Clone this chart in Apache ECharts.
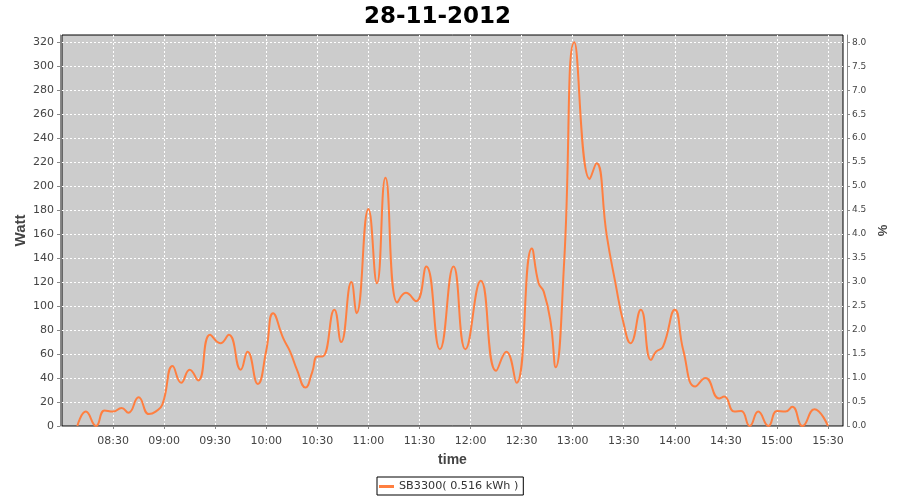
<!DOCTYPE html>
<html>
<head>
<meta charset="utf-8">
<script src="https://cdn.jsdelivr.net/npm/echarts@6/dist/echarts.min.js"></script>
<style>
  html, body { margin: 0; padding: 0; background: #fff; }
  #chart { width: 900px; height: 500px; }
</style>
</head>
<body>
<div id="chart"></div>
<script>
// readings of the SB3300 inverter, 28-11-2012
var times = ['08:09', '08:14', '08:20', '08:25', '08:30', '08:35', '08:39', '08:45', '08:51', '08:55',
  '08:59', '09:05', '09:10', '09:15', '09:20', '09:27', '09:33', '09:38', '09:45', '09:49',
  '09:55', '10:00', '10:04', '10:10', '10:14', '10:18', '10:23', '10:27', '10:30', '10:33',
  '10:40', '10:44', '10:50', '10:53', '11:00', '11:05', '11:10', '11:17', '11:22', '11:28',
  '11:34', '11:42', '11:50', '11:57', '12:06', '12:15', '12:21', '12:27', '12:36', '12:40',
  '12:43', '12:47', '12:50', '12:55', '13:01', '13:10', '13:14', '13:20', '13:25', '13:30',
  '13:34', '13:40', '13:46', '13:49', '13:53', '14:00', '14:05', '14:12', '14:18', '14:26',
  '14:29', '14:35', '14:39', '14:44', '14:49', '14:55', '15:00', '15:05', '15:09', '15:15',
  '15:22', '15:30']
var watt = [0, 12, 0, 13, 12, 15, 11, 24, 10, 12,
  18, 50, 36, 47, 38, 76, 69, 76, 47, 62,
  35, 63, 94, 73, 62, 47, 32, 45, 58, 58,
  97, 70, 120, 94, 181, 119, 207, 103, 111, 104,
  133, 64, 133, 64, 121, 46, 62, 36, 148, 119,
  112, 87, 49, 137, 320, 206, 219, 159, 120, 85,
  69, 97, 55, 62, 66, 97, 63, 33, 40, 23,
  24.5, 12, 12.5, 0, 12, 0, 12.5, 12, 16, 0,
  14, 0]
var seriesName = 'SB3300( 0.516 kWh )'
var chartTitle = '28-11-2012'

function toMin (s) {
  var p = s.split(':')
  return parseInt(p[0], 10) * 60 + parseInt(p[1], 10)
}
function fmtTime (v) {
  var h = Math.floor(v / 60)
  var m = Math.round(v - h * 60)
  return (h < 10 ? '0' : '') + h + ':' + (m < 10 ? '0' : '') + m
}

var points = times.map(function (t, i) { return [toMin(t), watt[i]] })

var font = 'DejaVu Sans'
var myChart = echarts.init(document.getElementById('chart'))
myChart.setOption({
  animation: false,
  backgroundColor: '#fff',
  title: {
    text: chartTitle,
    left: 359,
    top: 1,
    textStyle: { fontFamily: font, fontWeight: 'bold', fontSize: 23, color: '#000' }
  },
  legend: {
    left: 377,
    top: 477,
    borderColor: '#000',
    borderWidth: 1,
    padding: [4, 5, 3, 2],
    itemWidth: 15,
    itemHeight: 3,
    textStyle: { fontFamily: font, fontSize: 11.2, color: '#333' },
    data: [{ name: seriesName, icon: 'rect' }]
  },
  grid: {
    left: 62,
    right: 57,
    top: 35,
    bottom: 74,
    show: true,
    backgroundColor: '#cccccc',
    borderColor: '#000',
    borderWidth: 1
  },
  xAxis: {
    type: 'value',
    min: 480,
    max: 938.8,
    interval: 30,
    offset: 4,
    name: 'time',
    nameLocation: 'middle',
    nameGap: 23,
    nameTextStyle: { fontFamily: 'Liberation Sans', fontWeight: 'bold', fontSize: 14, color: '#444' },
    axisLine: { lineStyle: { color: '#888' } },
    axisTick: { length: 3, lineStyle: { color: '#888' } },
    axisLabel: {
      showMinLabel: false,
      showMaxLabel: false,
      margin: 6,
      fontFamily: font,
      fontSize: 11,
      color: '#444',
      formatter: fmtTime
    },
    splitLine: {
      show: true,
      showMinLine: false,
      showMaxLine: false,
      lineStyle: { color: '#fff', type: [2, 2], width: 1 }
    }
  },
  yAxis: [{
    type: 'value',
    min: 0,
    max: 326,
    interval: 20,
    offset: 2,
    name: 'Watt',
    nameLocation: 'middle',
    nameGap: 32,
    nameMoveOverlap: false,
    nameTextStyle: { fontFamily: 'Liberation Sans', fontWeight: 'bold', fontSize: 15, color: '#444' },
    axisLine: { show: true, lineStyle: { color: '#888' } },
    axisTick: { show: true, length: 3, lineStyle: { color: '#888' } },
    axisLabel: {
      showMaxLabel: false,
      margin: 6,
      fontFamily: font,
      fontSize: 11,
      color: '#444'
    },
    splitLine: {
      show: true,
      showMinLine: false,
      showMaxLine: false,
      lineStyle: { color: '#fff', type: [2, 2], width: 1 }
    }
  }, {
    type: 'value',
    position: 'right',
    min: 0,
    max: 8.15,
    interval: 0.5,
    offset: 4,
    name: '%',
    nameLocation: 'middle',
    nameGap: 26,
    nameTextStyle: { fontFamily: 'Liberation Sans', fontWeight: 'bold', fontSize: 13, color: '#444' },
    axisLine: { show: true, lineStyle: { color: '#888' } },
    axisTick: { show: true, length: 3, lineStyle: { color: '#888' } },
    axisLabel: {
      showMaxLabel: false,
      margin: 5,
      fontFamily: font,
      fontSize: 9,
      color: '#444',
      formatter: function (v) { return v.toFixed(1) }
    },
    splitLine: { show: false }
  }],
  series: [{
    name: seriesName,
    type: 'line',
    yAxisIndex: 0,
    smooth: true,
    symbol: 'none',
    lineStyle: { color: '#ff7f40', width: 2 },
    itemStyle: { color: '#ff7f40' },
    data: points
  }]
})
</script>
</body>
</html>
